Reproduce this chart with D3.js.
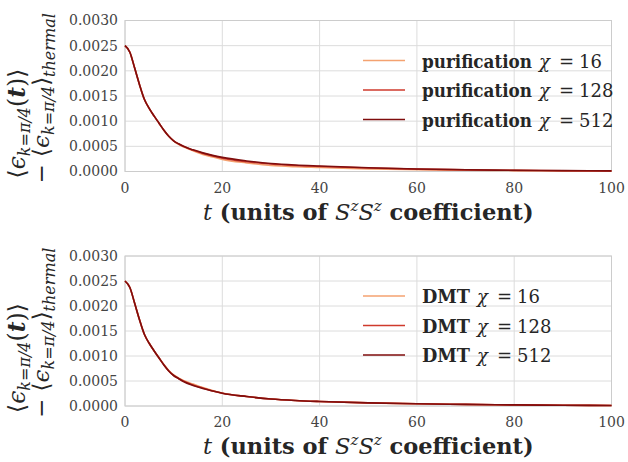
<!DOCTYPE html>
<html>
<head>
<meta charset="utf-8">
<script src="https://cdn.jsdelivr.net/npm/d3@7"></script>
<style>
  body { margin: 0; background: #fff; }
</style>
</head>
<body>
<svg width="628" height="462" font-family="'DejaVu Serif', serif"></svg>
<script>
// time points (units of SzSz coefficient)
const times = [0, 1, 2, 3, 4, 5, 6, 7, 8, 9, 10, 11, 12, 14, 16, 18, 20, 25, 30, 35, 40, 50, 60, 70, 80, 90, 100];

// purification runs
const purif16  = [0.00250, 0.00237, 0.00205, 0.00172, 0.00143, 0.00125, 0.00110, 0.00096, 0.00082, 0.00070, 0.00061, 0.00054, 0.00049, 0.00041, 0.00034, 0.00029, 0.00024, 0.00017, 0.00012, 0.000095, 0.00008, 0.00005, 0.000035, 0.000025, 0.000018, 0.000013, 0.00001];
const purif128 = [0.00250, 0.00237, 0.00205, 0.00172, 0.00143, 0.00125, 0.00110, 0.00096, 0.00082, 0.00070, 0.00061, 0.00055, 0.00050, 0.00042, 0.00036, 0.00031, 0.000265, 0.000195, 0.00015, 0.00012, 0.000100, 0.00007, 0.000047, 0.000033, 0.000023, 0.000016, 0.000011];
const purif512 = [0.00250, 0.00237, 0.00205, 0.00172, 0.00143, 0.00125, 0.00110, 0.00096, 0.00082, 0.00070, 0.00061, 0.00055, 0.00050, 0.00043, 0.00037, 0.00032, 0.00028, 0.00021, 0.00016, 0.00013, 0.00011, 0.000075, 0.00005, 0.000035, 0.000025, 0.000018, 0.000012];

// DMT runs
const dmt16  = [0.00250, 0.00237, 0.00205, 0.00172, 0.00143, 0.00125, 0.00110, 0.00096, 0.00083, 0.00071, 0.00062, 0.00056, 0.00051, 0.00044, 0.00037, 0.00031, 0.00026, 0.00019, 0.00014, 0.00011, 0.00009, 0.000062, 0.000044, 0.000031, 0.000021, 0.000014, 0.00001];
const dmt128 = [0.00250, 0.00237, 0.00205, 0.00172, 0.00143, 0.00125, 0.00110, 0.00096, 0.00082, 0.00070, 0.00061, 0.00055, 0.00050, 0.00042, 0.00036, 0.00030, 0.000255, 0.00019, 0.00014, 0.00011, 0.00009, 0.000062, 0.000045, 0.000032, 0.000022, 0.000015, 0.00001];
const dmt512 = [0.00250, 0.00237, 0.00205, 0.00172, 0.00143, 0.00125, 0.00110, 0.00096, 0.00082, 0.00070, 0.00061, 0.00055, 0.00049, 0.00041, 0.00035, 0.00030, 0.000255, 0.00019, 0.00014, 0.00011, 0.00009, 0.000062, 0.000045, 0.000032, 0.000022, 0.000015, 0.00001];

const chis = [16, 128, 512];
const colors = ["#f4a270", "#cf3a2c", "#7f0d0d"];
const xTicks = [0, 20, 40, 60, 80, 100];
const yTicks = [0, 0.0005, 0.0010, 0.0015, 0.0020, 0.0025, 0.0030];

const svg = d3.select("svg");

const x = d3.scaleLinear().domain([0, 100]).range([125, 611.5]);

function drawPanel(top, bottom, method, nameWidth, series) {
  const y = d3.scaleLinear().domain([0, 0.003]).range([bottom, top]);
  const g = svg.append("g");

  // grid
  g.selectAll(".gx").data(xTicks).join("line")
    .attr("x1", d => x(d)).attr("x2", d => x(d))
    .attr("y1", top).attr("y2", bottom)
    .attr("stroke", "#dcdcdc").attr("stroke-width", 1);
  g.selectAll(".gy").data(yTicks).join("line")
    .attr("x1", x(0)).attr("x2", x(100))
    .attr("y1", d => y(d)).attr("y2", d => y(d))
    .attr("stroke", "#dcdcdc").attr("stroke-width", 1);

  // frame
  g.append("rect")
    .attr("x", x(0)).attr("y", top)
    .attr("width", x(100) - x(0)).attr("height", bottom - top)
    .attr("fill", "none").attr("stroke", "#cccccc").attr("stroke-width", 1);

  // tick labels
  g.selectAll(".ty").data(yTicks).join("text")
    .attr("x", 118).attr("y", d => y(d)).attr("dy", "0.35em")
    .attr("text-anchor", "end")
    .attr("font-size", 14).attr("fill", "#444")
    .text(d3.format(".4f"));
  g.selectAll(".tx").data(xTicks).join("text")
    .attr("x", d => x(d)).attr("y", bottom + 21)
    .attr("text-anchor", "middle")
    .attr("font-size", 14).attr("fill", "#444")
    .text(d => d);

  // curves
  const line = d3.line()
    .x((d, i) => x(times[i]))
    .y(d => y(d))
    .curve(d3.curveMonotoneX);
  g.selectAll(".curve").data(series).join("path")
    .attr("fill", "none")
    .attr("stroke", (d, i) => colors[i])
    .attr("stroke-width", 1.6)
    .attr("d", d => line(d));

  // legend
  const legTop = top + 40;
  const leg = g.selectAll(".leg").data(chis).join("g")
    .attr("transform", (d, i) => `translate(0, ${legTop + i * 29.5})`);
  leg.append("line")
    .attr("x1", 363).attr("x2", 405).attr("y1", 0).attr("y2", 0)
    .attr("stroke", (d, i) => colors[i]).attr("stroke-width", 1.5);
  const lt = leg.append("text")
    .attr("y", 7)
    .attr("font-size", 18).attr("fill", "#262626");
  lt.append("tspan").attr("x", 422).attr("font-weight", "bold")
    .attr("textLength", nameWidth).attr("lengthAdjust", "spacingAndGlyphs")
    .text(method);
  const after = 422 + nameWidth;
  lt.append("tspan").attr("x", after + 7).attr("font-style", "italic").text("χ");
  lt.append("tspan").attr("x", after + 27).text("=");
  lt.append("tspan").attr("x", after + 47).text(d => d);

  // x label
  const xl = g.append("text")
    .attr("x", (x(0) + x(100)) / 2).attr("y", bottom + 48)
    .attr("text-anchor", "middle")
    .attr("font-size", 22.5).attr("fill", "#262626");
  xl.append("tspan").attr("font-style", "italic").text("t");
  xl.append("tspan").attr("font-weight", "bold").text(" (units of ");
  xl.append("tspan").attr("font-style", "italic").text("S");
  xl.append("tspan").attr("font-style", "italic").attr("font-size", 15).attr("dy", -9).text("z");
  xl.append("tspan").attr("font-style", "italic").attr("dy", 9).text("S");
  xl.append("tspan").attr("font-style", "italic").attr("font-size", 15).attr("dy", -9).text("z");
  xl.append("tspan").attr("font-weight", "bold").attr("dy", 9).text(" coefficient)");

  // y label (two lines, rotated)
  const yl = g.append("g")
    .attr("transform", `translate(0, ${bottom + 12}) rotate(-90)`);
  const l1 = yl.append("text").attr("x", 5).attr("y", 25)
    .attr("font-size", 23.5).attr("fill", "#262626");
  l1.append("tspan").text("⟨");
  l1.append("tspan").attr("font-style", "italic").text("ϵ");
  l1.append("tspan").attr("font-style", "italic").attr("font-size", 16).attr("dy", 5).text("k=π/4");
  l1.append("tspan").attr("dy", -5).text("(");
  l1.append("tspan").attr("font-style", "italic").attr("font-weight", "bold").text("t");
  l1.append("tspan").text(")⟩");
  const l2 = yl.append("text").attr("x", 0).attr("y", 49)
    .attr("font-size", 23).attr("fill", "#262626");
  l2.append("tspan").text("− ⟨");
  l2.append("tspan").attr("font-style", "italic").text("ϵ");
  l2.append("tspan").attr("font-style", "italic").attr("font-size", 16).attr("dy", 5).text("k=π/4");
  l2.append("tspan").attr("dy", -5).text("⟩");
  l2.append("tspan").attr("font-style", "italic").attr("font-size", 16).attr("dy", 6).text("thermal");
}

drawPanel(20.5, 171.5, "purification", 110, [purif16, purif128, purif512]);
drawPanel(256, 406, "DMT", 48, [dmt16, dmt128, dmt512]);
</script>
</body>
</html>
